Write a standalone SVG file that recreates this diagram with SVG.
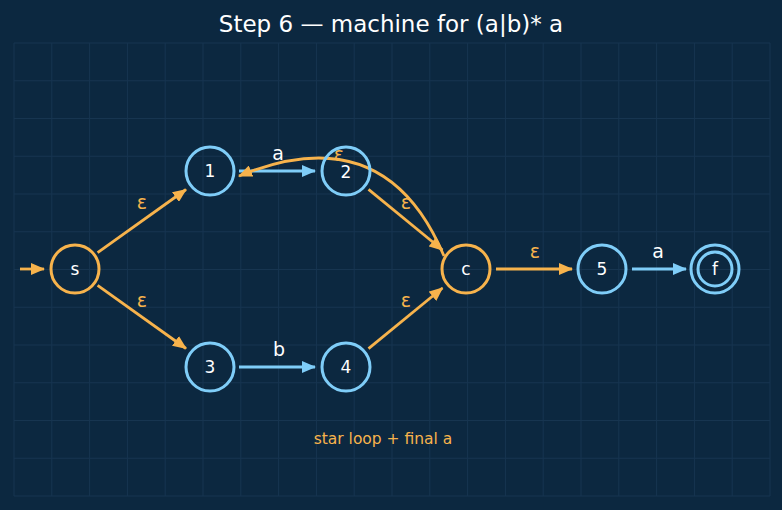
<svg xmlns="http://www.w3.org/2000/svg" width="782" height="510" viewBox="0 0 782 510">
  <style>
    .grid { stroke: #173550; stroke-width: 1; fill: none; }
    .node-o { fill: none; stroke: #f7b34c; stroke-width: 3; }
    .node-b { fill: none; stroke: #7fcdf8; stroke-width: 3; }
    .nlabel { font-family: "DejaVu Sans", sans-serif; font-size: 17px; fill: #ffffff; text-anchor: middle; dominant-baseline: central; }
    .e-o { stroke: #f7b34c; stroke-width: 2.8; fill: none; marker-end: url(#arrow-o); }
    .e-b { stroke: #7fcdf8; stroke-width: 2.8; fill: none; marker-end: url(#arrow-b); }
    .lab { font-family: "DejaVu Sans", sans-serif; font-size: 19px; fill: #ffffff; text-anchor: middle; dominant-baseline: central; }
    .eps { font-family: "DejaVu Sans", sans-serif; font-size: 19px; fill: #f7b34c; text-anchor: middle; dominant-baseline: central; }
  </style>
  <defs>
    <marker id="arrow-o" viewBox="0 0 14 12" refX="13" refY="6" markerWidth="14" markerHeight="12" markerUnits="userSpaceOnUse" orient="auto">
      <path d="M0,0 L14,6 L0,12 z" fill="#f7b34c"/>
    </marker>
    <marker id="arrow-b" viewBox="0 0 14 12" refX="13" refY="6" markerWidth="14" markerHeight="12" markerUnits="userSpaceOnUse" orient="auto">
      <path d="M0,0 L14,6 L0,12 z" fill="#7fcdf8"/>
    </marker>
  </defs>

  <rect width="782" height="510" fill="#0c2840"/>

  <!-- background grid -->
  <path class="grid" d="M14,43 V496 M51.8,43 V496 M89.6,43 V496 M127.4,43 V496 M165.2,43 V496 M203,43 V496 M240.8,43 V496 M278.6,43 V496 M316.4,43 V496 M354.2,43 V496 M392,43 V496 M429.8,43 V496 M467.6,43 V496 M505.4,43 V496 M543.2,43 V496 M581,43 V496 M618.8,43 V496 M656.6,43 V496 M694.4,43 V496 M732.2,43 V496 M770,43 V496
    M14,43 H770 M14,80.75 H770 M14,118.5 H770 M14,156.25 H770 M14,194 H770 M14,231.75 H770 M14,269.5 H770 M14,307.25 H770 M14,345 H770 M14,382.75 H770 M14,420.5 H770 M14,458.25 H770 M14,496 H770"/>

  <text x="391" y="24" font-family="DejaVu Sans, sans-serif" font-size="23" fill="#ffffff" text-anchor="middle" dominant-baseline="central">Step 6 — machine for (a|b)* a</text>

  <!-- connectors -->
  <g id="edges">
    <path class="e-o" d="M20,269 H44"/>
    <path class="e-o" d="M97.6,252.6 L186,189.5"/>
    <path class="e-o" d="M97.6,285.4 L186,348.5"/>
    <path class="e-b" d="M239,171 H315"/>
    <path class="e-b" d="M239,367 H315"/>
    <path class="e-o" d="M368.5,189.4 L442.5,250"/>
    <path class="e-o" d="M368.5,348.6 L442.5,288"/>
    <path class="e-o" d="M496,269 H572"/>
    <path class="e-b" d="M632,269 H686"/>
    <path class="e-o" d="M444,256 Q385,116 239,176"/>

    <text class="eps" x="142" y="202">ε</text>
    <text class="eps" x="142" y="300">ε</text>
    <text class="lab" x="278" y="153">a</text>
    <text class="lab" x="279" y="349">b</text>
    <text class="eps" x="406" y="202">ε</text>
    <text class="eps" x="406" y="300">ε</text>
    <text class="eps" x="535" y="251">ε</text>
    <text class="lab" x="658" y="251">a</text>
    <text class="eps" x="339" y="154">ε</text>
  </g>

  <!-- states -->
  <g id="node-s"><circle class="node-o" cx="75" cy="269" r="24"/><text class="nlabel" x="75" y="269">s</text></g>
  <g id="node-1"><circle class="node-b" cx="210" cy="171" r="24"/><text class="nlabel" x="210" y="171">1</text></g>
  <g id="node-2"><circle class="node-b" cx="346" cy="171" r="24"/><text class="nlabel" x="346" y="172">2</text></g>
  <g id="node-3"><circle class="node-b" cx="210" cy="367" r="24"/><text class="nlabel" x="210" y="367">3</text></g>
  <g id="node-4"><circle class="node-b" cx="346" cy="367" r="24"/><text class="nlabel" x="346" y="367">4</text></g>
  <g id="node-c"><circle class="node-o" cx="466" cy="269" r="24"/><text class="nlabel" x="466" y="269">c</text></g>
  <g id="node-5"><circle class="node-b" cx="602" cy="269" r="24"/><text class="nlabel" x="602" y="269">5</text></g>
  <g id="node-f"><circle class="node-b" cx="715" cy="269" r="24"/><circle class="node-b" cx="715" cy="269" r="17"/><text class="nlabel" x="715" y="269">f</text></g>

  <text x="383" y="439" font-family="DejaVu Sans, sans-serif" font-size="15.5" fill="#f7b34c" text-anchor="middle" dominant-baseline="central">star loop + final a</text>
</svg>
